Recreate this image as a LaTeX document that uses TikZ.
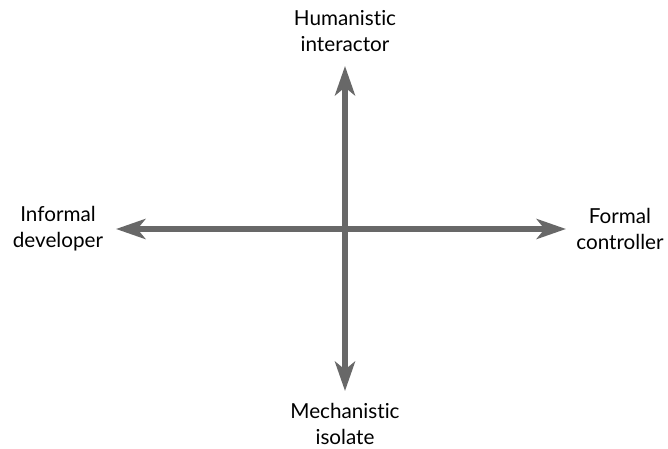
\documentclass[tikz,border=0pt]{standalone}
\usepackage{fontspec}
\setmainfont{Lato}[Ligatures=NoCommon]
\usetikzlibrary{arrows.meta}

\definecolor{axisgray}{RGB}{104,104,104}

\begin{document}
\begin{tikzpicture}[x={(0.75pt,0pt)}, y={(0pt,-0.75pt)},
    axis/.style={line width=4.5pt, axisgray, -{Stealth[length=22pt, width=15pt, inset=6pt]}},
    pole/.style={align=center, font=\fontsize{15.5}{19.5}\selectfont, inner sep=0pt}]
  \useasboundingbox (0,0) rectangle (668,449);
  \coordinate (O) at (345,229);
  \coordinate (N) at (345,66);
  \coordinate (S) at (345,391);
  \coordinate (W) at (116,229);
  \coordinate (E) at (566,229);
  \draw[axis] (O)--(N);
  \draw[axis] (O)--(S);
  \draw[axis] (O)--(W);
  \draw[axis] (O)--(E);
  \node[pole] (hum) at (345,31) {Humanistic\\interactor};
  \node[pole] (mech) at (345,424) {Mechanistic\\isolate};
  \node[pole] (inf) at (58,229) {Informal\\developer};
  \node[pole] (form) at (620,229) {Formal\\controller};
\end{tikzpicture}
\end{document}
